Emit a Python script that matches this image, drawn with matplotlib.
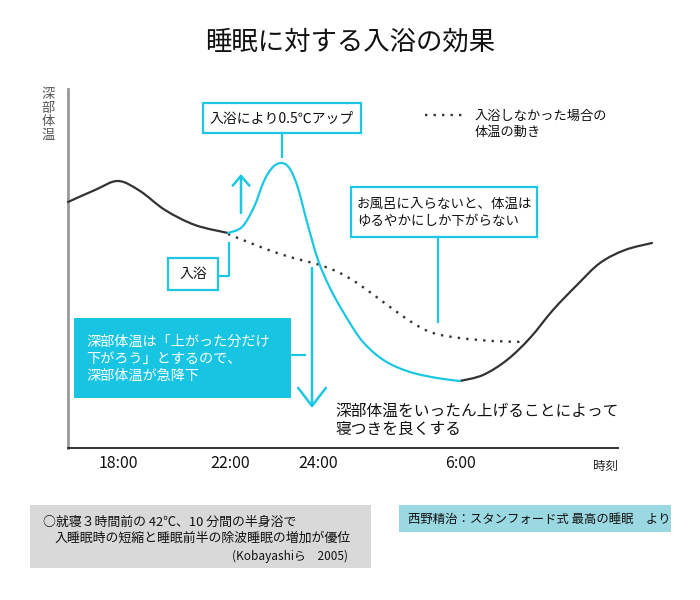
import matplotlib
matplotlib.use("Agg")
import matplotlib.pyplot as plt
from matplotlib.patches import Rectangle, PathPatch
from matplotlib.path import Path

plt.rcParams['font.family'] = ['Noto Sans CJK JP', 'DejaVu Sans']

# ---- data (chart units; y grows downward = lower temperature) ----
tick_pos = [118, 230, 318, 460]
tick_labels = ["18:00", "22:00", "24:00", "6:00"]

evening_x = [68, 95, 118, 140, 165, 195, 228]
evening_y = [202, 190, 181, 191, 210, 225, 233]

bath_x = [228, 242, 254, 264, 273, 282, 290, 298, 307, 318, 330, 345, 363, 385, 410, 437, 460]
bath_y = [233, 227, 207, 181, 167, 163, 169, 188, 222, 260, 288, 315, 342, 361, 372, 378, 381]

morning_x = [460, 483, 507, 530, 553, 577, 600, 625, 652]
morning_y = [381, 375, 360, 338, 310, 285, 263, 250, 243]

nobath_x = [228, 253, 280, 305, 320, 340, 360, 390, 413, 433, 460, 493, 527]
nobath_y = [234, 244, 254, 261, 265, 273, 285, 307, 323, 333, 338, 341, 342]

CYAN = "#1cc7e4"
DARK = "#333333"


def smooth_path(xs, ys, t=0.5):
    """Bezier path passing through the given points (Catmull-Rom style tangents)."""
    pts = list(zip(xs, ys))
    verts = [pts[0]]
    codes = [Path.MOVETO]
    n = len(pts)
    for i in range(n - 1):
        p0 = pts[i - 1] if i > 0 else pts[i]
        p1 = pts[i]
        p2 = pts[i + 1]
        p3 = pts[i + 2] if i + 2 < n else pts[i + 1]
        c1 = (p1[0] + (p2[0] - p0[0]) * t / 3, p1[1] + (p2[1] - p0[1]) * t / 3)
        c2 = (p2[0] - (p3[0] - p1[0]) * t / 3, p2[1] - (p3[1] - p1[1]) * t / 3)
        verts += [c1, c2, p2]
        codes += [Path.CURVE4] * 3
    return Path(verts, codes)


fig = plt.figure(figsize=(7, 6), dpi=100)
ax = fig.add_axes([68 / 700, (600 - 448) / 600, (618 - 68) / 700, (448 - 89) / 600])
ax.set_xlim(68, 618)
ax.set_ylim(448, 89)

for s in ("top", "right"):
    ax.spines[s].set_visible(False)
ax.spines["left"].set_color("#999999")
ax.spines["left"].set_linewidth(2)
ax.spines["bottom"].set_color(DARK)
ax.spines["bottom"].set_linewidth(1.4)
ax.set_yticks([])
ax.set_xticks(tick_pos)
ax.set_xticklabels(tick_labels, fontsize=11.5, color="#111111")
ax.tick_params(axis="x", length=0, pad=5)

# curves
for xs, ys, col, z in [(evening_x, evening_y, DARK, 3), (morning_x, morning_y, DARK, 3),
                       (bath_x, bath_y, CYAN, 4)]:
    ax.add_patch(PathPatch(smooth_path(xs, ys), facecolor="none", edgecolor=col, lw=1.6,
                           capstyle="round", joinstyle="round", clip_on=False, zorder=z))
ax.add_patch(PathPatch(smooth_path(nobath_x, nobath_y), facecolor="none", edgecolor=DARK, lw=1.7,
                       linestyle=(0, (1, 2.6)), clip_on=False, zorder=2))

kw = dict(clip_on=False)

# title
ax.text(350, 42, "睡眠に対する入浴の効果", ha="center", va="center", fontsize=19, color="#111111", **kw)

# axis labels
ax.text(48, 115, "深\n部\n体\n温", ha="center", va="center", fontsize=9.5, color="#555555",
        linespacing=1.05, **kw)
ax.text(605, 466, "時刻", ha="center", va="center", fontsize=9, color="#222222", **kw)

# callout: 入浴により0.5℃アップ
ax.add_patch(Rectangle((203, 103), 158, 30, fill=False, edgecolor=CYAN, lw=1.6, **kw))
ax.text(282, 118.5, "入浴により0.5℃アップ", ha="center", va="center", fontsize=10, color="#111111", **kw)
ax.plot([282, 282], [133, 157], color=CYAN, lw=1.6, **kw)

# up arrow
ax.annotate("", xy=(241, 174), xytext=(241, 213), xycoords="data",
            arrowprops=dict(arrowstyle="->,head_length=0.7,head_width=0.6", color=CYAN, lw=1.8,
                            shrinkA=0, shrinkB=0), annotation_clip=False)

# 入浴 box
ax.add_patch(Rectangle((168, 258), 50, 32, fill=False, edgecolor=CYAN, lw=1.6, **kw))
ax.text(193, 274, "入浴", ha="center", va="center", fontsize=10, color="#111111", **kw)
ax.plot([229, 229, 218], [243, 276, 276], color=CYAN, lw=1.6, **kw)

# legend for dotted
ax.plot([425, 467], [115, 115], color=DARK, lw=1.7, linestyle=(0, (1, 2.6)), **kw)
ax.text(475, 124, "入浴しなかった場合の\n体温の動き", ha="left", va="center", fontsize=9.5,
        color="#111111", linespacing=1.3, **kw)

# お風呂に入らないと box
ax.add_patch(Rectangle((351, 187), 186, 50, fill=False, edgecolor=CYAN, lw=1.6, **kw))
ax.text(357, 212, "お風呂に入らないと、体温は\nゆるやかにしか下がらない", ha="left", va="center",
        fontsize=9.7, color="#111111", linespacing=1.3, **kw)
ax.plot([438, 438], [237, 322], color=CYAN, lw=1.6, **kw)

# filled box
ax.add_patch(Rectangle((74, 318), 217, 80, facecolor="#17c4e2", edgecolor="none", **kw))
ax.text(86, 359, "深部体温は「上がった分だけ\n下がろう」とするので、\n深部体温が急降下", ha="left",
        va="center", fontsize=10.2, color="white", linespacing=1.25, **kw)
ax.plot([291, 305], [355, 355], color=CYAN, lw=1.6, **kw)

# down arrow
ax.annotate("", xy=(312, 408), xytext=(312, 268), xycoords="data",
            arrowprops=dict(arrowstyle="->,head_length=1.3,head_width=1.0", color=CYAN, lw=1.8,
                            shrinkA=0, shrinkB=0), annotation_clip=False)

ax.text(335, 420, "深部体温をいったん上げることによって\n寝つきを良くする", ha="left", va="center",
        fontsize=11.3, color="#111111", linespacing=1.1, **kw)

# bottom-left gray box
ax.add_patch(Rectangle((30, 505), 341, 63, facecolor="#d9d9d9", edgecolor="none", **kw))
ax.text(43, 522, "○就寝３時間前の 42℃、10 分間の半身浴で", ha="left", va="center", fontsize=9.3,
        color="#111111", **kw)
ax.text(55, 538, "入睡眠時の短縮と睡眠前半の除波睡眠の増加が優位", ha="left", va="center", fontsize=9.3,
        color="#111111", **kw)
ax.text(348, 556, "(Kobayashiら　2005)", ha="right", va="center", fontsize=8.5, color="#111111", **kw)

# source box
ax.add_patch(Rectangle((399, 505), 272, 27, facecolor="#9bd9e2", edgecolor="none", **kw))
ax.text(408, 519, "西野精治：スタンフォード式 最高の睡眠　より", ha="left", va="center", fontsize=8.9,
        color="#111111", **kw)

fig.savefig("out.png", dpi=100)
